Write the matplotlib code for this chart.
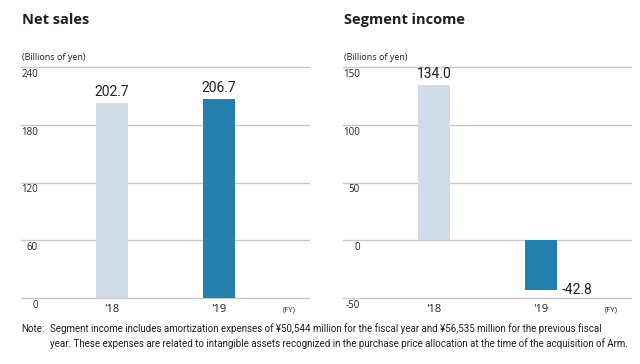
import matplotlib.pyplot as plt
from matplotlib.transforms import blended_transform_factory

plt.rcParams['font.family'] = ['Open Sans', 'DejaVu Sans']
narrow = ['Roboto', 'DejaVu Sans']

years = ["'18", "'19"]
net_sales = [202.7, 206.7]
segment_income = [134.0, -42.8]
net_ticks = [0, 60, 120, 180, 240]
seg_ticks = [-50, 0, 50, 100, 150]

bar_colors = ['#d1dce8', '#237fad']
grid_color = '#c9c9c9'
text_color = '#231f20'

W, H = 640, 364
fig = plt.figure(figsize=(W / 100, H / 100), dpi=100)


def panel(x0, title, values, ticks, label_side):
    ax = fig.add_axes([x0 / W, (H - 298) / H, 288 / W, 231 / H])
    ax.set_xlim(-0.85, 1.84)
    ax.set_ylim(ticks[0], ticks[-1])
    for s in ax.spines.values():
        s.set_visible(False)
    ax.set_yticks(ticks)
    ax.set_yticklabels([])
    ax.tick_params(axis='y', length=0)
    ax.grid(axis='y', color=grid_color, linewidth=1)
    for gl in ax.get_ygridlines():
        gl.set_clip_on(False)
    ax.set_axisbelow(True)
    ax.set_xticks(range(len(years)))
    ax.set_xticklabels(years, fontsize=8, color=text_color)
    ax.tick_params(axis='x', length=0, pad=4)

    trans = blended_transform_factory(ax.transAxes, ax.transData)
    for t in ticks:
        ax.annotate(str(t), (17 / 288, t), xycoords=trans, xytext=(0, -2),
                    textcoords='offset pixels', ha='right', va='top',
                    fontsize=7, color=text_color)

    ax.bar(range(len(values)), values, width=0.3, color=bar_colors, zorder=2)
    for i, v in enumerate(values):
        if v >= 0 or label_side == 'top':
            ax.annotate(f'{v:.1f}', (i, v), xytext=(0, 4), textcoords='offset pixels',
                        ha='center', va='bottom', fontsize=10, color=text_color,
                        family=narrow)
        else:
            ax.annotate(f'{v:.1f}', (i + 0.15, v), xytext=(5, 0), textcoords='offset pixels',
                        ha='left', va='center', fontsize=10, color=text_color,
                        family=narrow)

    ax.text(0.93, -0.035, '(FY)', transform=ax.transAxes, ha='center', va='top',
            fontsize=5.5, color=text_color)
    fig.text((x0 + 1) / W, 1 - 20 / H, title, fontsize=10.5, fontweight='bold',
             color=text_color, va='center', ha='left')
    fig.text((x0 + 1) / W, 1 - 58 / H, '(Billions of yen)', fontsize=6.5,
             color=text_color, va='center', ha='left')
    return ax


panel(21, 'Net sales', net_sales, net_ticks, 'top')
panel(343, 'Segment income', segment_income, seg_ticks, 'side')

fig.text(21 / W, 1 - 329 / H, 'Note:', fontsize=7.0, color=text_color, va='center',
         family=narrow)
fig.text(50 / W, 1 - 329 / H,
         'Segment income includes amortization expenses of \u00a550,544 million for the fiscal year and \u00a556,535 million for the previous fiscal',
         fontsize=7.0, color=text_color, va='center', family=narrow)
fig.text(50 / W, 1 - 344 / H,
         'year. These expenses are related to intangible assets recognized in the purchase price allocation at the time of the acquisition of Arm.',
         fontsize=7.0, color=text_color, va='center', family=narrow)

fig.savefig('out.png', dpi=100)
